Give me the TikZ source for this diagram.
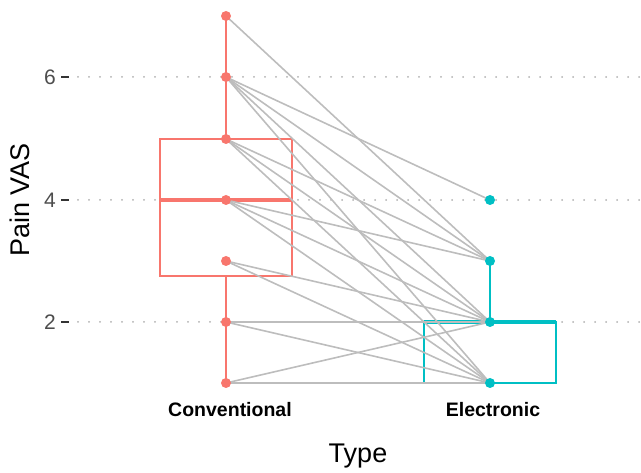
\documentclass[tikz,border=0pt]{standalone}
\usepackage{fontspec}
\setmainfont{Liberation Sans}
\definecolor{conv}{HTML}{F8766D}
\definecolor{elec}{HTML}{00BFC4}
\definecolor{pair}{HTML}{BDBDBD}
\definecolor{gridc}{HTML}{B0B0B0}
\definecolor{ticktext}{HTML}{4D4D4D}
\begin{document}
\begin{tikzpicture}[x=1pt,y=-1pt,
  pt/.style={circle,inner sep=0pt,minimum size=10pt},
  cpt/.style={pt,fill=conv},
  ept/.style={pt,fill=elec},
  pairline/.style={draw=pair,line width=1.6pt},
  gridline/.style={draw=gridc,line width=2pt,line cap=round,dash pattern=on 0pt off 11pt},
  tickmark/.style={draw=black!80,line width=2pt},
  ticklab/.style={anchor=east,text=ticktext,inner sep=0pt,font=\fontsize{21}{21}\selectfont},
  catlab/.style={anchor=base,inner sep=0pt,font=\bfseries\fontsize{19.5}{20}\selectfont},
  axtitle/.style={inner sep=0pt,font=\fontsize{27}{27}\selectfont},
  boxline/.style={line width=2pt},
  medline/.style={line width=4pt},
  whisk/.style={line width=2.2pt}]
\useasboundingbox (0,0) rectangle (641,473);
% gridlines
\foreach \yy in {77,200,322} {
  \draw[gridline] (78,\yy) -- (641,\yy);
  \draw[tickmark] (61,\yy) -- (69,\yy);
}
\node[ticklab] (t6) at (56,77) {6};
\node[ticklab] (t4) at (56,200) {4};
\node[ticklab] (t2) at (56,322) {2};
% positions
\coordinate (cp7) at (226,16);
\coordinate (cp6) at (226,77);
\coordinate (cp5) at (226,139);
\coordinate (cp4) at (226,200);
\coordinate (cp3) at (226,261);
\coordinate (cp2) at (226,322);
\coordinate (cp1) at (226,383);
\coordinate (cq) at (226,276);
\coordinate (ep4) at (490,200);
\coordinate (ep3) at (490,261);
\coordinate (ep2) at (490,322);
\coordinate (ep1) at (490,383);
% conventional box
\draw[conv,whisk] (cp5) -- (cp7);
\draw[conv,whisk] (cq) -- (cp1);
\draw[conv,boxline] (160,139) rectangle (292,276);
\draw[conv,medline] (160,200) -- (292,200);
% electronic box
\draw[elec,whisk] (ep2) -- (ep3);
\draw[elec,boxline] (424,322) rectangle (556,383);
\draw[elec,medline] (424,322) -- (556,322);
% paired lines
\foreach \a/\b in {7/3,6/4,6/3,6/2,6/1,5/3,5/2,5/1,4/3,4/2,4/1,3/2,3/1,2/2,2/1,1/2,1/1}
  \draw[pairline] (cp\a) -- (ep\b);
% points
\foreach \i in {1,...,7} \node[cpt] (c\i) at (cp\i) {};
\foreach \i in {1,...,4} \node[ept] (e\i) at (ep\i) {};
% labels
\node[catlab] (lc) at (230,417) {Conventional};
\node[catlab] (le) at (493,417) {Electronic};
\node[axtitle,anchor=base] (xt) at (358,463) {Type};
\node[axtitle,rotate=90] (yt) at (20,200) {Pain VAS};
\end{tikzpicture}
\end{document}
